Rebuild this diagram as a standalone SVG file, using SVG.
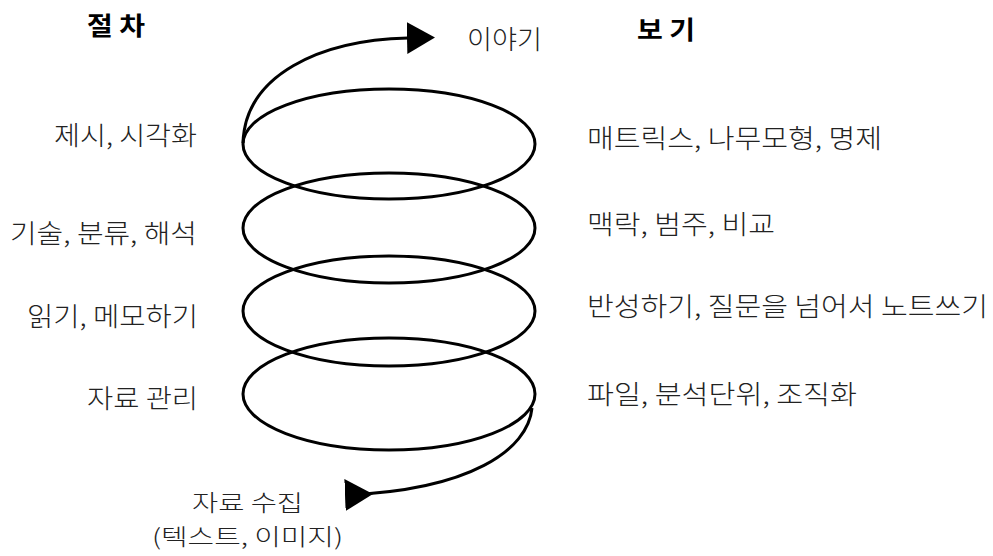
<svg xmlns="http://www.w3.org/2000/svg" width="993" height="556" viewBox="0 0 993 556">
<style>
.t{font-family:"Noto Sans CJK KR","Noto Sans",sans-serif;font-size:26px;font-weight:300;fill:#222;}
.b{font-family:"Noto Sans CJK KR","Noto Sans",sans-serif;font-size:22.5px;font-weight:300;fill:#222;}
.h{font-family:"Noto Sans CJK KR","Noto Sans",sans-serif;font-size:25px;font-weight:bold;fill:#000;}
.s{fill:none;stroke:#000;stroke-width:3;}
</style>
<defs>
<marker id="ah" markerUnits="userSpaceOnUse" markerWidth="30" markerHeight="34" refX="1" refY="16" orient="auto" viewBox="0 0 30 34">
<path d="M0,0 L28,16 L0,32 z" fill="#000"/>
</marker>
</defs>
<rect width="993" height="556" fill="#fff"/>
<g id="connectors">
<ellipse class="s" cx="389" cy="144" rx="146" ry="55"/>
<ellipse class="s" cx="389" cy="228" rx="146" ry="55"/>
<ellipse class="s" cx="389" cy="311" rx="146" ry="55"/>
<ellipse class="s" cx="389" cy="394" rx="146" ry="56"/>
<path class="s" d="M243,143 C245,75 320,40 408,38" marker-end="url(#ah)"/>
<path class="s" d="M346,495 C470,490 528,450 532,408" marker-start="url(#ah)"/>
</g>
<g id="head-left"><text class="h" x="87" y="35" textLength="58" lengthAdjust="spacingAndGlyphs">절 차</text></g>
<g id="head-right"><text class="h" x="637" y="39" textLength="58" lengthAdjust="spacingAndGlyphs">보 기</text></g>
<g id="story"><text class="t" x="467" y="49" textLength="75" lengthAdjust="spacingAndGlyphs">이야기</text></g>
<g id="l1"><text class="t" x="197" y="145" text-anchor="end" textLength="143" lengthAdjust="spacingAndGlyphs">제시, 시각화</text></g>
<g id="l2"><text class="t" x="197" y="243" text-anchor="end" textLength="187" lengthAdjust="spacingAndGlyphs">기술, 분류, 해석</text></g>
<g id="l3"><text class="t" x="198" y="326" text-anchor="end" textLength="171" lengthAdjust="spacingAndGlyphs">읽기, 메모하기</text></g>
<g id="l4"><text class="t" x="198" y="408" text-anchor="end" textLength="111" lengthAdjust="spacingAndGlyphs">자료 관리</text></g>
<g id="r1"><text class="t" x="587" y="148" textLength="295" lengthAdjust="spacingAndGlyphs">매트릭스, 나무모형, 명제</text></g>
<g id="r2"><text class="t" x="587" y="234" textLength="188" lengthAdjust="spacingAndGlyphs">맥락, 범주, 비교</text></g>
<g id="r3"><text class="t" x="587" y="316" textLength="401" lengthAdjust="spacingAndGlyphs">반성하기, 질문을 넘어서 노트쓰기</text></g>
<g id="r4"><text class="t" x="587" y="404" textLength="270" lengthAdjust="spacingAndGlyphs">파일, 분석단위, 조직화</text></g>
<g id="bottom">
<text class="b" x="192" y="511" textLength="111" lengthAdjust="spacingAndGlyphs">자료 수집</text>
<text class="b" x="152" y="545" textLength="191" lengthAdjust="spacingAndGlyphs">(텍스트, 이미지)</text>
</g>
</svg>
